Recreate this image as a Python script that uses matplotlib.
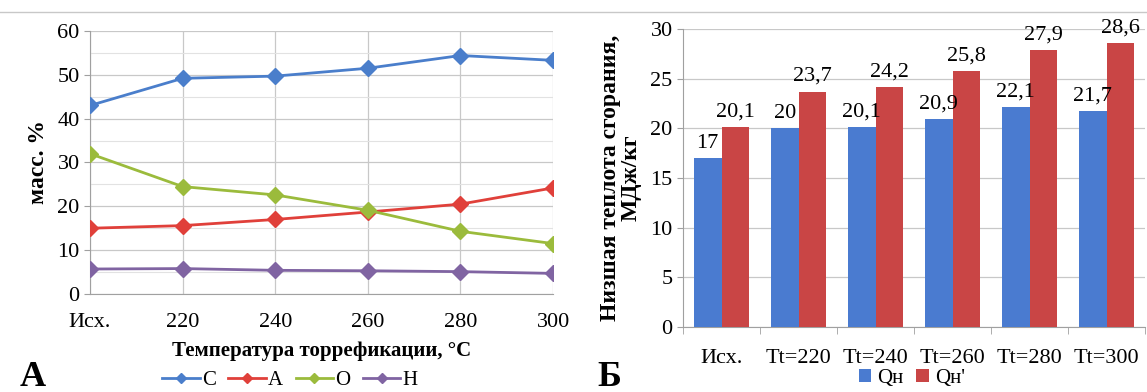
import numpy as np
import matplotlib.pyplot as plt
from matplotlib.lines import Line2D

plt.rcParams['font.family'] = ['Liberation Serif', 'DejaVu Serif']

# --- данные, панель А ---
temp_labels = ['Исх.', '220', '240', '260', '280', '300']
c_vals = [43.0, 49.2, 49.7, 51.5, 54.4, 53.3]
a_vals = [15.0, 15.6, 17.0, 18.7, 20.5, 24.2]
o_vals = [32.0, 24.5, 22.6, 19.1, 14.3, 11.5]
h_vals = [5.7, 5.8, 5.4, 5.3, 5.1, 4.7]

# --- данные, панель Б ---
group_labels = ['Исх.', 'Tt=220', 'Tt=240', 'Tt=260', 'Tt=280', 'Tt=300']
q_low = [17, 20, 20.1, 20.9, 22.1, 21.7]
q_low2 = [20.1, 23.7, 24.2, 25.8, 27.9, 28.6]

fig = plt.figure(figsize=(11.47, 3.92), dpi=100)
fig.add_artist(Line2D([0, 1], [0.97, 0.97], color='#c8c8c8', lw=1))

grid_c = '#c8c8c8'
axis_c = '#a0a0a0'

# ---------- А ----------
ax1 = fig.add_axes([0.0785, 0.25, 0.4037, 0.671])
x = np.arange(len(temp_labels))
series = [
    ('C', c_vals, '#4a7ecb'),
    ('A', a_vals, '#e0403a'),
    ('O', o_vals, '#9bbb3c'),
    ('H', h_vals, '#8064a2'),
]
for name, vals, col in series:
    ax1.plot(x, vals, color=col, lw=2, marker='D', ms=8, label=name, zorder=3)

ax1.set_xlim(0, 5)
ax1.set_ylim(0, 60)
ax1.set_yticks(range(0, 61, 10))
ax1.set_yticks(range(5, 60, 10), minor=True)
ax1.set_xticks(x)
ax1.set_xticklabels(temp_labels)
ax1.grid(True, which='major', color=grid_c, lw=0.9)
ax1.grid(True, which='minor', axis='y', color='#e2e2e2', lw=0.8)
ax1.tick_params(axis='both', which='major', labelsize=16, length=4, color=axis_c)
ax1.tick_params(axis='y', which='minor', length=0)
ax1.tick_params(axis='x', length=0, pad=14)
for s in ['top', 'right']:
    ax1.spines[s].set_visible(False)
for s in ['left', 'bottom']:
    ax1.spines[s].set_color(axis_c)
ax1.set_ylabel('масс. %', fontsize=17, fontweight='bold', labelpad=6)
ax1.set_xlabel('Температура торрефикации, °C', fontsize=15, fontweight='bold', labelpad=6)
h1, l1 = ax1.get_legend_handles_labels()
fig.legend(h1, l1, loc='center', bbox_to_anchor=(290 / 1147, 0.03), ncol=4,
           frameon=False, fontsize=15, handlelength=1.8, handletextpad=0.1,
           columnspacing=0.6, markerscale=0.7, borderpad=0)
fig.text(0.017, 0.015, 'А', fontsize=26, fontweight='bold')

# ---------- Б ----------
ax2 = fig.add_axes([0.5955, 0.166, 0.403, 0.760])
g = np.arange(len(group_labels))
w = 0.36
b1 = ax2.bar(g - w / 2, q_low, w, color='#4a7bd0', label='Qн', zorder=3)
b2 = ax2.bar(g + w / 2, q_low2, w, color='#c94545', label="Qн'", zorder=3)
ax2.bar_label(b1, labels=[f'{v:g}'.replace('.', ',') for v in q_low], fontsize=16,
              padding=4)
ax2.bar_label(b2, labels=[f'{v:g}'.replace('.', ',') for v in q_low2], fontsize=16,
              padding=4)
ax2.set_xlim(-0.5, 5.5)
ax2.set_ylim(0, 30)
ax2.set_yticks(range(0, 31, 5))
ax2.set_xticks(g)
ax2.set_xticklabels(group_labels)
ax2.set_xticks(np.arange(-0.5, 6, 1), minor=True)
ax2.grid(True, axis='y', color=grid_c, lw=0.9)
ax2.tick_params(axis='both', which='major', labelsize=16, color=axis_c)
ax2.tick_params(axis='x', which='major', length=0, pad=16)
ax2.tick_params(axis='x', which='minor', length=5, color=axis_c)
ax2.tick_params(axis='y', length=4)
for s in ['top', 'right']:
    ax2.spines[s].set_visible(False)
for s in ['left', 'bottom']:
    ax2.spines[s].set_color(axis_c)
ax2.set_ylabel('Низшая теплота сгорания,\nМДж/кг', fontsize=17, fontweight='bold',
               labelpad=6, linespacing=1.0)
h2, l2 = ax2.get_legend_handles_labels()
fig.legend(h2, l2, loc='center', bbox_to_anchor=(912 / 1147, 0.035), ncol=2,
           frameon=False, fontsize=15, handlelength=0.6, handleheight=0.6,
           handletextpad=0.3, columnspacing=0.6, borderpad=0)
fig.text(0.521, 0.015, 'Б', fontsize=26, fontweight='bold')

fig.savefig('out.png', dpi=100)
